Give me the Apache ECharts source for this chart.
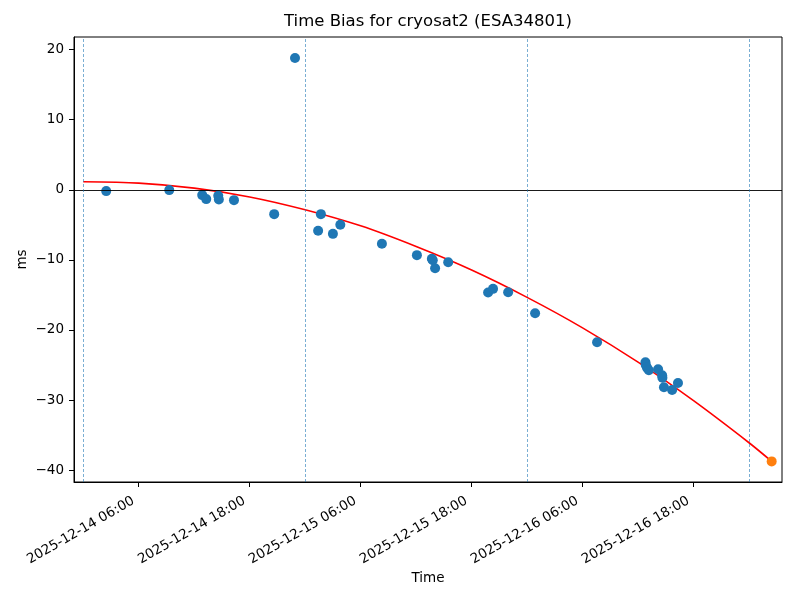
<!DOCTYPE html>
<html>
<head>
<meta charset="utf-8">
<script src="https://cdn.jsdelivr.net/npm/echarts@6/dist/echarts.min.js"></script>
<style>html,body{margin:0;padding:0;background:#fff}#c{width:800px;height:600px}</style>
</head>
<body>
<div id="c"></div>
<script>
// Observations (time, bias in ms)
const obsTimes = [
  '2025-12-14 02:29','2025-12-14 09:18','2025-12-14 12:52','2025-12-14 13:18','2025-12-14 14:36',
  '2025-12-14 14:40','2025-12-14 16:18','2025-12-14 20:39','2025-12-14 22:54','2025-12-15 01:24',
  '2025-12-15 01:42','2025-12-15 03:00','2025-12-15 03:48','2025-12-15 08:18','2025-12-15 12:05',
  '2025-12-15 13:42','2025-12-15 13:48','2025-12-15 14:03','2025-12-15 15:28','2025-12-15 19:47',
  '2025-12-15 20:19','2025-12-15 21:57','2025-12-16 00:52','2025-12-16 07:34','2025-12-16 12:48',
  '2025-12-16 12:50','2025-12-16 12:58','2025-12-16 13:10','2025-12-16 14:10','2025-12-16 14:36',
  '2025-12-16 14:38','2025-12-16 14:48','2025-12-16 15:41','2025-12-16 16:19'
];
const obsValues = [
  -0.19, -0.05, -0.76, -1.33, -0.86,
  -1.38, -1.48, -3.48, 18.8, -5.86,
  -3.48, -6.29, -5.0, -7.71, -9.33,
  -9.85, -10.05, -11.19, -10.33, -14.67,
  -14.14, -14.62, -17.62, -21.76, -24.62,
  -25.0, -25.38, -25.76, -25.62, -26.48,
  -26.81, -28.19, -28.57, -27.57
];
// Predicted point
const predTimes = ['2025-12-17 02:27'];
const predValues = [-38.76];
// Fitted curve, every 6 hours
const fitTimes = [
  '2025-12-14 00:00','2025-12-14 06:00','2025-12-14 12:00','2025-12-14 18:00','2025-12-15 00:00',
  '2025-12-15 06:00','2025-12-15 12:00','2025-12-15 18:00','2025-12-16 00:00','2025-12-16 06:00',
  '2025-12-16 12:00','2025-12-16 18:00','2025-12-17 00:00','2025-12-17 02:27'
];
const fitValues = [1.14, 0.95, 0.23, -1.02, -2.85, -5.15, -8.1, -11.45, -15.35, -19.7, -24.6, -30.1, -36.1, -38.76];
// Midnight guide lines
const dayLines = ['2025-12-14 00:00','2025-12-15 00:00','2025-12-16 00:00','2025-12-17 00:00'];
// Tick labels
const xTicks = ['2025-12-14 06:00','2025-12-14 18:00','2025-12-15 06:00','2025-12-15 18:00','2025-12-16 06:00','2025-12-16 18:00'];
const yTicks = [-40, -30, -20, -10, 0, 10, 20];

const P = s => echarts.time.parse(s).getTime();
const font = 'DejaVu Sans';
const chart = echarts.init(document.getElementById('c'), null, {renderer: 'canvas'});

chart.setOption({
  animation: false,
  backgroundColor: '#ffffff',
  textStyle: {fontFamily: font},
  grid: {left: 74, right: 18, top: 37, bottom: 118, show: true, borderColor: '#000', borderWidth: 1, backgroundColor: 'transparent'},
  graphic: [{
    type: 'text', x: 428, y: 22,
    style: {text: 'Time Bias for cryosat2 (ESA34801)', fontFamily: font, fontSize: 16.5, fill: '#000', textAlign: 'center', textVerticalAlign: 'middle'}
  }],
  xAxis: {
    type: 'value',
    min: P('2025-12-13 23:00'),
    max: P('2025-12-17 03:34'),
    name: 'Time',
    nameLocation: 'middle',
    nameGap: 89,
    nameMoveOverlap: false,
    nameTextStyle: {fontFamily: font, fontSize: 13.5, color: '#000'},
    axisLine: {show: true, onZero: false, lineStyle: {color: '#000', width: 1}},
    axisTick: {show: true, length: 5, lineStyle: {color: '#000'}, customValues: xTicks.map(P)},
    axisLabel: {
      customValues: xTicks.map(P),
      rotate: 30, margin: 15, padding: [0, 6, 0, 0], color: '#000', fontFamily: font, fontSize: 13.5,
      formatter: v => echarts.time.format(v, '{yyyy}-{MM}-{dd} {HH}:{mm}', false)
    },
    splitLine: {show: false}
  },
  yAxis: {
    type: 'value',
    min: -41.7,
    max: 21.8,
    name: 'ms',
    nameLocation: 'middle',
    nameGap: 45,
    nameMoveOverlap: false,
    nameRotate: 90,
    nameTextStyle: {fontFamily: font, fontSize: 13.5, color: '#000'},
    axisLine: {show: true, onZero: false, lineStyle: {color: '#000', width: 1}},
    axisTick: {show: true, length: 5, lineStyle: {color: '#000'}, customValues: yTicks},
    axisLabel: {
      customValues: yTicks, margin: 10, color: '#000', fontFamily: font, fontSize: 13.5,
      formatter: v => String(v).replace('-', '\u2212')
    },
    splitLine: {show: false}
  },
  series: [
    {
      type: 'line',
      data: fitTimes.map((t, i) => [P(t), fitValues[i]]),
      smooth: 0.3,
      showSymbol: false,
      lineStyle: {color: '#ff0000', width: 1.6},
      z: 2,
      markLine: {
        silent: true, symbol: ['none', 'none'], label: {show: false},
        data: [
          {yAxis: 0, lineStyle: {color: '#000', width: 0.9, type: 'solid'}}
        ].concat(dayLines.map(d => ({xAxis: P(d), lineStyle: {color: '#1f77b4', width: 0.7, type: [3, 2], opacity: 0.85}})))
      }
    },
    {
      type: 'scatter',
      data: obsTimes.map((t, i) => [P(t), obsValues[i]]),
      symbolSize: 10,
      itemStyle: {color: '#1f77b4', opacity: 1},
      z: 3
    },
    {
      type: 'scatter',
      data: predTimes.map((t, i) => [P(t), predValues[i]]),
      symbolSize: 10,
      itemStyle: {color: '#ff7f0e', opacity: 1},
      z: 3
    }
  ]
});
</script>
</body>
</html>
